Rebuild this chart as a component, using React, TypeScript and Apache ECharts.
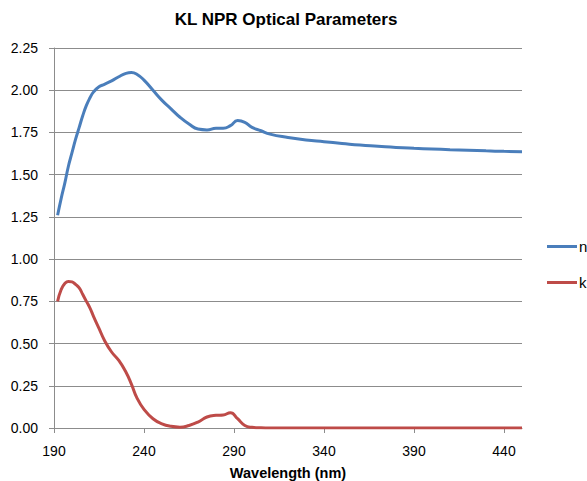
import React, { useEffect, useRef } from 'react';
import * as echarts from 'echarts';

const wavelength = [192, 194, 196, 198, 200, 202, 204, 206, 208, 210, 212, 215, 218, 222, 226, 230, 233, 236, 240, 245, 250, 255, 260, 265, 270, 275, 280, 284, 288, 292, 296, 300, 305, 310, 320, 330, 340, 350, 360, 370, 380, 390, 400, 410, 420, 430, 440, 450];
const nValues = [1.26, 1.36, 1.45, 1.55, 1.63, 1.71, 1.78, 1.85, 1.91, 1.955, 1.99, 2.02, 2.035, 2.055, 2.08, 2.1, 2.105, 2.095, 2.06, 2.0, 1.94, 1.89, 1.84, 1.8, 1.77, 1.765, 1.775, 1.775, 1.79, 1.82, 1.81, 1.78, 1.76, 1.74, 1.72, 1.705, 1.695, 1.685, 1.675, 1.668, 1.661, 1.656, 1.652, 1.648, 1.645, 1.641, 1.638, 1.636];
const kValues = [0.75, 0.82, 0.855, 0.868, 0.865, 0.85, 0.83, 0.79, 0.75, 0.71, 0.66, 0.59, 0.52, 0.45, 0.4, 0.33, 0.26, 0.18, 0.11, 0.055, 0.025, 0.01, 0.005, 0.015, 0.035, 0.065, 0.075, 0.077, 0.09, 0.055, 0.015, 0.004, 0.001, 0, 0, 0, 0, 0, 0, 0, 0, 0, 0, 0, 0, 0, 0, 0];
const xTickValues = [190, 240, 290, 340, 390, 440];
const seriesNames = ['n', 'k'];
const seriesColors = ['#4a7ebb', '#be4b48'];
const titleText = 'KL NPR Optical Parameters';
const xAxisTitle = 'Wavelength (nm)';

const FONT = '"Liberation Sans", Arial, sans-serif';
const GRID_COLOR = '#8c8c8c';

export default function App() {
  const ref = useRef<HTMLDivElement>(null);
  useEffect(() => {
    const chart = echarts.init(ref.current!, undefined, { renderer: 'svg' });
    chart.setOption({
      animation: false,
      backgroundColor: '#ffffff',
      textStyle: { fontFamily: FONT },
      graphic: [
        {
          type: 'text',
          x: 286,
          y: 19,
          style: {
            text: titleText,
            fontFamily: FONT,
            fontSize: 17,
            fontWeight: 'bold',
            fill: '#000',
            align: 'center',
            verticalAlign: 'middle',
          },
        },
      ],
      grid: { left: 54, right: 65, top: 48, bottom: 53, containLabel: false, outerBoundsMode: 'none' },
      legend: {
        orient: 'vertical',
        left: 542,
        top: 234,
        itemWidth: 30,
        itemHeight: 3,
        itemGap: 21,
        textStyle: { fontFamily: FONT, fontSize: 15, color: '#000', padding: [0, 0, 0, -3] },
        data: seriesNames.map((name) => ({ name, icon: 'rect' })),
      },
      xAxis: {
        type: 'value',
        min: 190,
        max: 450,
        name: xAxisTitle,
        nameLocation: 'middle',
        nameGap: 37,
        nameTextStyle: { fontFamily: FONT, fontSize: 14.5, fontWeight: 'bold', color: '#000' },
        axisLine: { show: true, lineStyle: { color: GRID_COLOR, width: 1 } },
        axisTick: { show: true, inside: false, length: 5, lineStyle: { color: GRID_COLOR }, customValues: xTickValues },
        axisLabel: { fontFamily: FONT, fontSize: 14, color: '#000', margin: 16, customValues: xTickValues },
        splitLine: { show: false },
      },
      yAxis: {
        type: 'value',
        min: 0,
        max: 2.25,
        interval: 0.25,
        axisLine: { show: true, lineStyle: { color: GRID_COLOR, width: 1 } },
        axisTick: { show: true, inside: false, length: 5, lineStyle: { color: GRID_COLOR } },
        axisLabel: {
          fontFamily: FONT,
          fontSize: 14,
          color: '#000',
          margin: 16,
          formatter: (v: number) => v.toFixed(2),
        },
        splitLine: { show: true, lineStyle: { color: GRID_COLOR, width: 1 } },
      },
      series: [
        {
          name: seriesNames[0],
          type: 'line',
          data: wavelength.map((w, i) => [w, nValues[i]]),
          smooth: true,
          symbol: 'none',
          lineStyle: { color: seriesColors[0], width: 3 },
          itemStyle: { color: seriesColors[0] },
        },
        {
          name: seriesNames[1],
          type: 'line',
          data: wavelength.map((w, i) => [w, kValues[i]]),
          smooth: true,
          symbol: 'none',
          lineStyle: { color: seriesColors[1], width: 3 },
          itemStyle: { color: seriesColors[1] },
        },
      ],
    });
    return () => chart.dispose();
  }, []);
  return (
    <div
      ref={ref}
      style={{ position: 'fixed', left: 0, top: 0, width: 587, height: 481, background: '#fff' }}
    />
  );
}
